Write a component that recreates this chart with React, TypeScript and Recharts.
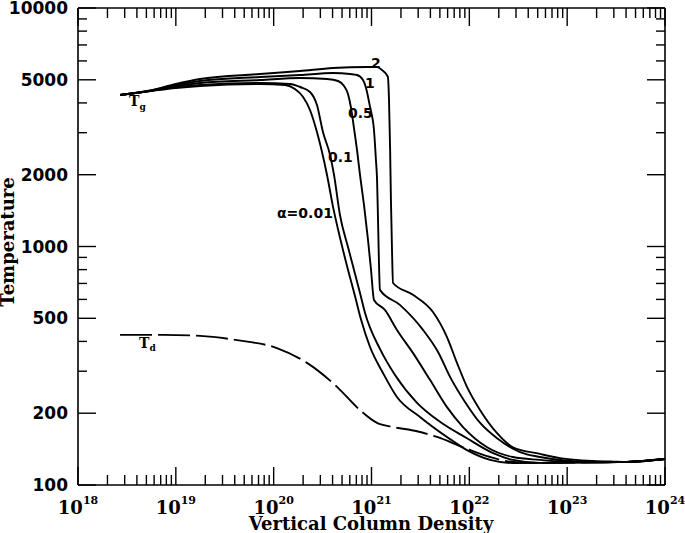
import { Line, LineChart, ReferenceLine, XAxis, YAxis } from 'recharts'

const W = 685
const H = 533
const LEFT = 78
const RIGHT = 665
const TOP = 8
const BOTTOM = 485

// [vertical column density, temperature]
const gasA001 = [
  [2.69e18, 4320], [5.44e18, 4480], [1e19, 4620], [1.77e19, 4710], [7.25e19, 4800],
  [1.31e20, 4755], [1.65e20, 4575], [2.0e20, 4236], [2.35e20, 3735], [2.77e20, 3020],
  [3.12e20, 2490], [3.51e20, 1995], [4.04e20, 1470], [4.76e20, 1090], [5.62e20, 828],
  [6.78e20, 620], [7.8e20, 495], [9.66e20, 379], [1.31e21, 295], [1.82e21, 234],
  [3.13e21, 193], [5.91e21, 159], [9.46e21, 140], [1.63e22, 127.4], [2.79e22, 123.6],
]
const gasA01 = [
  [2.69e18, 4320], [5.44e18, 4480], [1e19, 4664], [1.77e19, 4755], [7.25e19, 4848],
  [1.47e20, 4800], [1.86e20, 4664], [2.35e20, 4446], [2.77e20, 3921], [3.19e20, 3020],
  [3.77e20, 2420], [4.14e20, 1995], [4.76e20, 1355], [5.75e20, 995], [6.47e20, 828],
  [7.63e20, 638], [8.59e20, 526], [1.22e21, 372], [1.74e21, 289], [2.92e21, 221],
  [5.01e21, 184], [9.46e21, 157], [1.75e22, 136], [2.79e22, 127.4],
]
const gasA05 = [
  [2.69e18, 4320], [5.44e18, 4490], [1e19, 4709], [1.77e19, 4848], [7.25e19, 4990],
  [1.86e20, 5087], [3.51e20, 5038], [4.55e20, 4942], [5.24e20, 4709], [5.75e20, 4359],
  [6.18e20, 3808], [6.62e20, 3138], [7.11e20, 2540], [7.63e20, 1995], [8.38e20, 1493],
  [9.21e20, 1065], [9.89e20, 797], [1.06e21, 597], [1.37e21, 542], [1.82e21, 447],
  [2.65e21, 358], [3.96e21, 276], [5.91e21, 212], [8.62e21, 175], [1.52e22, 144],
  [2.79e22, 131], [5.27e22, 127.4], [1.07e23, 124.9],
]
const gasA1 = [
  [2.69e18, 4320], [5.44e18, 4500], [1e19, 4755], [1.77e19, 4942], [7.25e19, 5136],
  [1.86e20, 5235], [4.04e20, 5337], [6.03e20, 5286], [7.11e20, 5235], [8.19e20, 4990],
  [8.79e20, 4620], [9.66e20, 3845], [1.06e21, 3080], [1.11e21, 2305], [1.14e21, 1900],
  [1.166e21, 1291], [1.19e21, 878], [1.22e21, 658], [1.95e21, 569], [3.36e21, 447],
  [4.79e21, 361], [6.35e21, 284], [9.03e21, 223], [1.29e22, 182], [1.92e22, 157],
  [3.3e22, 137.5], [5.27e22, 131], [1.07e23, 126.1], [2.17e23, 125],
]
const gasA2 = [
  [2.69e18, 4320], [5.44e18, 4510], [1e19, 4800], [1.77e19, 5038], [7.25e19, 5286],
  [1.86e20, 5440], [4.04e20, 5601], [9.0e20, 5655], [1.14e21, 5655], [1.28e21, 5492],
  [1.47e21, 5140], [1.51e21, 4116], [1.55e21, 2540], [1.58e21, 1567], [1.62e21, 967],
  [1.66e21, 703], [2.65e21, 627], [4.25e21, 531], [5.91e21, 417], [7.48e21, 325],
  [9.46e21, 258], [1.29e22, 206], [1.92e22, 165], [2.79e22, 144], [5.27e22, 135],
  [8.45e22, 129.7], [1.84e23, 126.1], [3.0e23, 125.3],
]
const dust = [
  [2.69e18, 426], [7.39e18, 426], [1.77e19, 422], [4.22e19, 405], [1.08e20, 375],
  [2.19e20, 325], [4.44e20, 258], [7.63e20, 206], [1.14e21, 182], [1.66e21, 175],
  [2.92e21, 168], [4.67e21, 159], [8.62e21, 144], [1.63e22, 131], [2.79e22, 124.9],
]
// shared low-temperature tail where all curves meet
const tail = [
  [5.27e22, 123.8], [1.07e23, 124.2], [2.17e23, 124.5], [4.09e23, 125], [1e24, 128.5],
]

const xExponents = [18, 19, 20, 21, 22, 23, 24]
const yLabels = [100, 200, 500, 1000, 2000, 5000, 10000]

const xTicks: number[] = []
xExponents.forEach((e) => {
  xTicks.push(Math.pow(10, e))
  if (e < 24) for (let m = 2; m <= 9; m++) xTicks.push(m * Math.pow(10, e))
})
const yTicks: number[] = [10000]
;[2, 3].forEach((e) => {
  for (let m = 1; m <= 9; m++) yTicks.push(m * Math.pow(10, e))
})

const withTail = (arr: number[][]) => {
  const last = arr[arr.length - 1][0]
  return arr.concat(tail.filter((p) => p[0] > last)).map(([x, y]) => ({ x, y }))
}

const series = [
  { key: 'a001', data: withTail(gasA001), dash: undefined },
  { key: 'a01', data: withTail(gasA01), dash: undefined },
  { key: 'a05', data: withTail(gasA05), dash: undefined },
  { key: 'a1', data: withTail(gasA1), dash: undefined },
  { key: 'a2', data: withTail(gasA2), dash: undefined },
  { key: 'dust', data: withTail(dust), dash: '32 6' },
]

const isDecade = (v: number) => {
  const l = Math.log10(v)
  return Math.abs(l - Math.round(l)) < 1e-6
}

const serif = '"DejaVu Serif", serif'
const sans = '"DejaVu Sans", sans-serif'

// bottom ticks also mirror onto the top edge
const XTick = (props: any) => {
  const { x, payload } = props
  const major = isDecade(payload.value)
  const len = major ? 18 : 10
  const exp = Math.round(Math.log10(payload.value))
  return (
    <g>
      <line x1={x} x2={x} y1={BOTTOM} y2={BOTTOM - len} stroke='#000' strokeWidth={1.4} />
      <line x1={x} x2={x} y1={TOP} y2={TOP + len} stroke='#000' strokeWidth={1.4} />
      {major && (
        <text x={x} y={514} textAnchor='middle' fontFamily={serif} fontWeight='bold' fontSize={18} fill='#000'>
          <tspan>10</tspan>
          <tspan dy={-10} fontSize={11}>{exp}</tspan>
        </text>
      )}
    </g>
  )
}

// left ticks also mirror onto the right edge
const YTick = (props: any) => {
  const { y, payload } = props
  const major = yLabels.includes(payload.value)
  const len = major ? 18 : 9
  return (
    <g>
      <line x1={LEFT} x2={LEFT + len} y1={y} y2={y} stroke='#000' strokeWidth={1.4} />
      <line x1={RIGHT} x2={RIGHT - len} y1={y} y2={y} stroke='#000' strokeWidth={1.4} />
      {major && (
        <text x={68} y={y + 6} textAnchor='end' fontFamily={sans} fontWeight='bold' fontSize={17} fill='#000'>
          {payload.value}
        </text>
      )}
    </g>
  )
}

export default function App() {
  return (
    <div style={{ position: 'fixed', left: 0, top: 0, width: W, height: H, background: '#fff' }}>
      <LineChart width={W} height={H} margin={{ top: TOP, right: W - RIGHT, bottom: 0, left: 0 }}>
        <XAxis
          dataKey='x'
          type='number'
          scale='log'
          domain={[1e18, 1e24]}
          allowDataOverflow
          ticks={xTicks}
          interval={0}
          height={H - BOTTOM}
          tick={XTick}
          tickLine={false}
          axisLine={{ stroke: '#000', strokeWidth: 1.6 }}
          label={() => (
            <text x={371} y={530} textAnchor='middle' fontFamily={serif} fontWeight='bold' fontSize={18} fill='#000'>
              Vertical Column Density
            </text>
          )}
        />
        <YAxis
          type='number'
          scale='log'
          domain={[100, 10000]}
          allowDataOverflow
          ticks={yTicks}
          interval={0}
          width={LEFT}
          tick={YTick}
          tickLine={false}
          axisLine={{ stroke: '#000', strokeWidth: 1.6 }}
          label={() => (
            <text
              x={14}
              y={242}
              textAnchor='middle'
              transform='rotate(-90, 14, 242)'
              fontFamily={serif}
              fontWeight='bold'
              fontSize={18}
              fill='#000'
            >
              Temperature
            </text>
          )}
        />
        <ReferenceLine y={10000} stroke='#000' strokeWidth={1.6} />
        <ReferenceLine x={1e24} stroke='#000' strokeWidth={1.6} />
        {series.map((s) => (
          <Line
            key={s.key}
            data={s.data}
            dataKey='y'
            type='monotoneX'
            stroke='#000'
            strokeWidth={1.9}
            strokeDasharray={s.dash}
            dot={false}
            activeDot={false}
            isAnimationActive={false}
          />
        ))}
      </LineChart>
      <svg width={W} height={H} style={{ position: 'absolute', left: 0, top: 0, pointerEvents: 'none' }}>
        <g fontFamily={sans} fontWeight='bold' fontSize={14} fill='#000'>
          <text x={371} y={68}>2</text>
          <text x={365} y={88}>1</text>
          <text x={348} y={118}>0.5</text>
          <text x={328} y={162}>0.1</text>
          <text x={277} y={218}>α=0.01</text>
        </g>
        <g fontFamily={serif} fontWeight='bold' fill='#000'>
          <text x={129} y={106} fontSize={14}>
            T<tspan dy={4} fontSize={9}>g</tspan>
          </text>
          <text x={139} y={348} fontSize={14}>
            T<tspan dy={3} fontSize={9}>d</tspan>
          </text>
        </g>
      </svg>
    </div>
  )
}
